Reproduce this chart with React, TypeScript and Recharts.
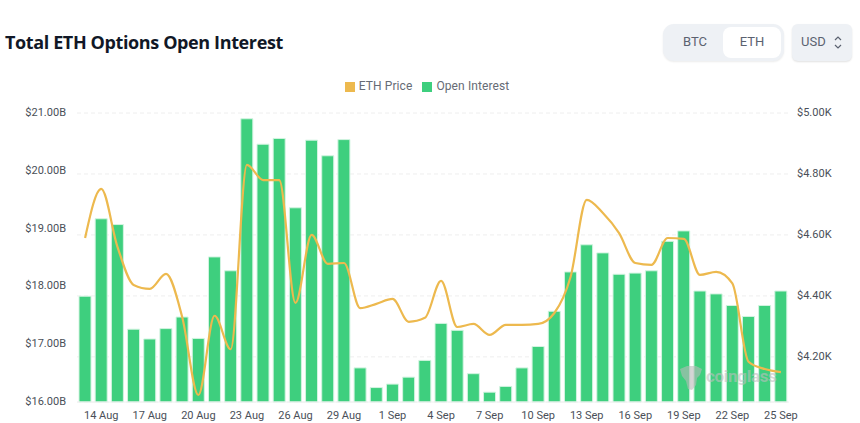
import { Bar, CartesianGrid, ComposedChart, Legend, Line, XAxis, YAxis } from "recharts";

const dates = [
    "13 Aug", "14 Aug", "15 Aug", "16 Aug", "17 Aug", "18 Aug", "19 Aug", "20 Aug", "21 Aug", "22 Aug",
    "23 Aug", "24 Aug", "25 Aug", "26 Aug", "27 Aug", "28 Aug", "29 Aug", "30 Aug", "31 Aug", "1 Sep",
    "2 Sep", "3 Sep", "4 Sep", "5 Sep", "6 Sep", "7 Sep", "8 Sep", "9 Sep", "10 Sep", "11 Sep",
    "12 Sep", "13 Sep", "14 Sep", "15 Sep", "16 Sep", "17 Sep", "18 Sep", "19 Sep", "20 Sep", "21 Sep",
    "22 Sep", "23 Sep", "24 Sep", "25 Sep",
];

// billions USD
const openInterest = [
    17.83, 19.17, 19.07, 17.26, 17.09, 17.27, 17.47, 17.1, 18.51, 18.27,
    20.9, 20.46, 20.56, 19.36, 20.53, 20.26, 20.54, 16.59, 16.25, 16.31,
    16.43, 16.72, 17.36, 17.24, 16.49, 16.17, 16.27, 16.59, 16.96, 17.57,
    18.25, 18.72, 18.58, 18.21, 18.23, 18.27, 18.78, 18.96, 17.92, 17.87,
    17.67, 17.48, 17.67, 17.92,
];

const ethPrice = [
    4590, 4751, 4561, 4436, 4423, 4472, 4331, 4075, 4335, 4225,
    4830, 4780, 4780, 4377, 4600, 4505, 4508, 4360, 4374, 4390,
    4315, 4328, 4449, 4298, 4308, 4272, 4305, 4305, 4308, 4344,
    4462, 4715, 4672, 4606, 4508, 4502, 4590, 4587, 4469, 4479,
    4441, 4184, 4160, 4150,
];

const xTicks = [
    "14 Aug", "17 Aug", "20 Aug", "23 Aug", "26 Aug", "29 Aug", "1 Sep", "4 Sep",
    "7 Sep", "10 Sep", "13 Sep", "16 Sep", "19 Sep", "22 Sep", "25 Sep",
];
const leftTicks = [16, 17, 18, 19, 20, 21];
const rightTicks = [4200, 4400, 4600, 4800, 5000];

const chartData = dates.map((date, i) => ({
    date,
    oi: openInterest[i],
    price: ethPrice[i],
}));

const FONT = "Roboto, sans-serif";
const AXIS_TEXT = { fontSize: 11, fill: "#4a4f58", fontFamily: FONT };

export default function App() {
    return (
        <div style={{ position: "absolute", left: 0, top: 0, width: 860, height: 423, background: "#fff", overflow: "hidden" }}>
            <div style={{ position: "absolute", left: 5, top: 29, fontFamily: "'Open Sans', sans-serif", fontWeight: 700, fontSize: 18, lineHeight: "26px", color: "#111827", letterSpacing: -0.38, whiteSpace: "nowrap" }}>
                Total ETH Options Open Interest
            </div>

            {/* BTC / ETH switch */}
            <div style={{ position: "absolute", left: 663, top: 24, width: 121, height: 37, borderRadius: 11, background: "#eef1f5", boxShadow: "0 1px 2px rgba(0,0,0,0.08)", fontFamily: FONT, fontSize: 13, color: "#5b6270" }}>
                <div style={{ position: "absolute", left: 2, top: 0, width: 60, lineHeight: "36px", textAlign: "center" }}>BTC</div>
                <div style={{ position: "absolute", left: 60, top: 3, width: 58, height: 31, lineHeight: "30px", textAlign: "center", background: "#fff", borderRadius: 8 }}>ETH</div>
            </div>
            <div style={{ position: "absolute", left: 792, top: 24, width: 60, height: 37, borderRadius: 6, background: "#eef1f5", boxShadow: "0 1px 2px rgba(0,0,0,0.12)", fontFamily: FONT, fontSize: 13, color: "#5b6270" }}>
                <div style={{ position: "absolute", left: 9, top: 0, lineHeight: "36px" }}>USD</div>
                <svg style={{ position: "absolute", left: 41, top: 11 }} width="10" height="15" viewBox="0 0 10 15" fill="none" stroke="#5b6270" strokeWidth="1.2">
                    <path d="M2 5 L5 2 L8 5" />
                    <path d="M2 10 L5 13 L8 10" />
                </svg>
            </div>

            <ComposedChart width={860} height={423} data={chartData} margin={{ top: 113, right: 0, bottom: 0, left: 0 }}>
                <CartesianGrid yAxisId="right" vertical={false} stroke="#eeeeee" strokeDasharray="4 3" />
                <XAxis
                    dataKey="date"
                    ticks={xTicks}
                    interval={0}
                    height={21}
                    tickLine={false}
                    axisLine={{ stroke: "#f0f0f0" }}
                    tick={AXIS_TEXT}
                    tickMargin={3}
                />
                <YAxis
                    yAxisId="left"
                    orientation="left"
                    width={77}
                    domain={[16, 21]}
                    ticks={leftTicks}
                    tickFormatter={(v) => `$${v.toFixed(2)}B`}
                    tickLine={false}
                    axisLine={false}
                    tick={{ ...AXIS_TEXT, dy: -1 }}
                    tickMargin={5}
                />
                <YAxis
                    yAxisId="right"
                    orientation="right"
                    width={71}
                    domain={[4052, 5000]}
                    ticks={rightTicks}
                    tickFormatter={(v) => `$${(v / 1000).toFixed(2)}K`}
                    tickLine={false}
                    axisLine={false}
                    tick={{ ...AXIS_TEXT, dy: -1 }}
                    tickMargin={2}
                />
                <Legend
                    layout="horizontal"
                    verticalAlign="middle"
                    align="center"
                    iconType="square"
                    iconSize={10}
                    wrapperStyle={{ top: 79, left: 2, width: 860, fontFamily: FONT, fontSize: 12, letterSpacing: 0.1 }}
                    formatter={(value) => <span style={{ color: "#666b75" }}>{value}</span>}
                />
                <Bar
                    yAxisId="left"
                    dataKey="oi"
                    name="Open Interest"
                    barSize={12}
                    fill="#3ecf7e"
                    stroke="#d3f4e1"
                    strokeWidth={1}
                    isAnimationActive={false}
                />
                <Line
                    yAxisId="right"
                    dataKey="price"
                    name="ETH Price"
                    type="monotone"
                    stroke="#edb94e"
                    strokeWidth={2.2}
                    dot={false}
                    isAnimationActive={false}
                />
            </ComposedChart>

            {/* watermark */}
            <div style={{ position: "absolute", left: 706, top: 366, fontFamily: FONT, fontWeight: 700, fontSize: 17, letterSpacing: -0.3, color: "rgba(190,190,190,0.6)", whiteSpace: "nowrap" }}>
                coinglass
            </div>
            <svg style={{ position: "absolute", left: 679, top: 365 }} width="24" height="26" viewBox="0 0 24 26">
                <path d="M1 4 L8 1 L17 1 L23 4 L21 10 L18 13 L17 20 L13 25 L9 24 L7 16 L3 11 Z" fill="rgba(185,185,185,0.6)" />
            </svg>
        </div>
    );
}
